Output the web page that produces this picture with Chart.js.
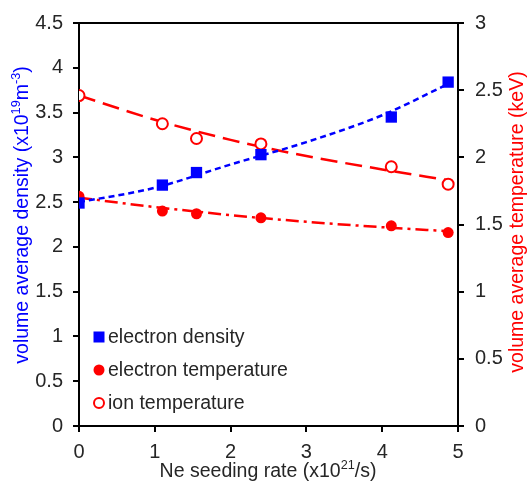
<!DOCTYPE html>
<html>
<head>
<meta charset="utf-8">
<script src="https://cdn.jsdelivr.net/npm/chart.js@4/dist/chart.umd.min.js"></script>
<style>
  html, body { margin: 0; padding: 0; background: #fff; }
  #wrap { width: 529px; height: 485px; position: relative; }
</style>
</head>
<body>
<div id="wrap"><canvas id="chart"></canvas></div>
<script>
// measured points
const seedRate = [0, 1.1, 1.55, 2.4, 4.12, 4.87];
const electronDensity = [2.49, 2.69, 2.83, 3.03, 3.45, 3.84];
const electronTemp = [1.71, 1.6, 1.58, 1.55, 1.49, 1.44];
const ionTemp = [2.46, 2.25, 2.14, 2.1, 1.93, 1.8];

// trend lines
const fitX = [0, 1, 2, 3, 4, 4.87];
const densityFit = [2.5, 2.66, 2.92, 3.17, 3.47, 3.82];
const eTempFit = [1.7, 1.63, 1.57, 1.52, 1.48, 1.45];
const iTempFit = [2.46, 2.28, 2.13, 2.01, 1.91, 1.83];

const xTicks = [0, 1, 2, 3, 4, 5];
const leftTicks = [0, 0.5, 1, 1.5, 2, 2.5, 3, 3.5, 4, 4.5];
const rightTicks = [0, 0.5, 1, 1.5, 2, 2.5, 3];

const BLUE = "#0000ff";
const RED = "#ff0000";
const FONT = "'Liberation Sans', Arial, sans-serif";
const TXT = "#262626";
const TICK_SIZE = 20;
const LABEL_SIZE = 19.5;

const pts = (xs, ys) => xs.map((x, i) => ({ x, y: ys[i] }));

function richText(ctx, parts, size) {
  // parts: [text, isSup]
  let w = 0;
  parts.forEach(([t, sup]) => {
    ctx.font = (sup ? size * 0.65 : size) + "px " + FONT;
    w += ctx.measureText(t).width;
  });
  let x = -w / 2;
  parts.forEach(([t, sup]) => {
    ctx.font = (sup ? size * 0.65 : size) + "px " + FONT;
    ctx.fillText(t, x, sup ? -size * 0.35 : 0);
    x += ctx.measureText(t).width;
  });
}

const decorPlugin = {
  id: "decor",
  afterDraw(chart) {
    const ctx = chart.ctx;
    const a = chart.chartArea;
    ctx.save();
    // top frame line
    ctx.strokeStyle = "#000";
    ctx.lineWidth = 2;
    ctx.beginPath();
    ctx.moveTo(a.left, a.top);
    ctx.lineTo(a.right, a.top);
    ctx.stroke();

    ctx.textBaseline = "middle";
    // left title
    ctx.save();
    ctx.translate(23, 215);
    ctx.rotate(-Math.PI / 2);
    ctx.fillStyle = BLUE;
    richText(ctx, [["volume average density (x10", 0], ["19", 1], ["m", 0], ["-3", 1], [")", 0]], LABEL_SIZE);
    ctx.restore();
    // right title
    ctx.save();
    ctx.translate(518, 222);
    ctx.rotate(-Math.PI / 2);
    ctx.fillStyle = RED;
    richText(ctx, [["volume average temperature (keV)", 0]], LABEL_SIZE);
    ctx.restore();
    // x title
    ctx.save();
    ctx.translate(268, 472);
    ctx.fillStyle = TXT;
    richText(ctx, [["Ne seeding rate (x10", 0], ["21", 1], ["/s)", 0]], LABEL_SIZE);
    ctx.restore();

    // legend
    const items = [
      { label: "electron density", y: 337, kind: "sq" },
      { label: "electron temperature", y: 370, kind: "dot" },
      { label: "ion temperature", y: 403, kind: "ring" },
    ];
    ctx.font = LABEL_SIZE + "px " + FONT;
    ctx.textAlign = "left";
    items.forEach((it) => {
      const mx = 99;
      if (it.kind === "sq") {
        ctx.fillStyle = BLUE;
        ctx.fillRect(mx - 5.5, it.y - 5.5, 11, 11);
      } else if (it.kind === "dot") {
        ctx.fillStyle = RED;
        ctx.beginPath();
        ctx.arc(mx, it.y, 5.5, 0, Math.PI * 2);
        ctx.fill();
      } else {
        ctx.strokeStyle = RED;
        ctx.lineWidth = 2;
        ctx.beginPath();
        ctx.arc(mx, it.y, 5, 0, Math.PI * 2);
        ctx.stroke();
      }
      ctx.fillStyle = TXT;
      ctx.fillText(it.label, 108, it.y + 1);
    });
    ctx.restore();
  },
};

function fixedTicks(values) {
  return (scale) => {
    scale.ticks = values.map((v) => ({ value: v }));
  };
}

const tickFmt = (v) => String(v);

new Chart(document.getElementById("chart"), {
  type: "line",
  data: {
    datasets: [
      {
        label: "density fit",
        data: pts(fitX, densityFit),
        yAxisID: "y",
        borderColor: BLUE,
        borderWidth: 2.5,
        borderDash: [6, 4],
        pointRadius: 0,
        cubicInterpolationMode: "monotone",
        order: 1,
      },
      {
        label: "ion fit",
        data: pts(fitX, iTempFit),
        yAxisID: "y1",
        borderColor: RED,
        borderWidth: 2.5,
        borderDash: [17, 8],
        pointRadius: 0,
        cubicInterpolationMode: "monotone",
        order: 1,
      },
      {
        label: "electron temp fit",
        data: pts(fitX, eTempFit),
        yAxisID: "y1",
        borderColor: RED,
        borderWidth: 2.5,
        borderDash: [13, 5, 3, 5],
        pointRadius: 0,
        cubicInterpolationMode: "monotone",
        order: 1,
      },
      {
        label: "electron density",
        data: pts(seedRate, electronDensity),
        yAxisID: "y",
        showLine: false,
        pointStyle: "rect",
        pointRadius: 8,
        backgroundColor: BLUE,
        borderColor: BLUE,
        borderWidth: 0,
        order: 0,
      },
      {
        label: "electron temperature",
        data: pts(seedRate, electronTemp),
        yAxisID: "y1",
        showLine: false,
        pointStyle: "circle",
        pointRadius: 5.5,
        backgroundColor: RED,
        borderColor: RED,
        borderWidth: 0,
        order: 0,
      },
      {
        label: "ion temperature",
        data: pts(seedRate, ionTemp),
        yAxisID: "y1",
        showLine: false,
        pointStyle: "circle",
        pointRadius: 5.5,
        backgroundColor: "#fff",
        borderColor: RED,
        borderWidth: 2,
        order: 0,
      },
    ],
  },
  options: {
    responsive: true,
    maintainAspectRatio: false,
    animation: false,
    layout: { padding: { top: 20, right: 0, left: 0, bottom: 0 } },
    plugins: { legend: { display: false }, tooltip: { enabled: false } },
    scales: {
      x: {
        type: "linear",
        min: 0,
        max: 5,
        afterBuildTicks: fixedTicks(xTicks),
        afterFit: (s) => { s.height = 59; },
        border: { color: "#000", width: 2 },
        grid: { drawOnChartArea: false, tickLength: 6, color: "#000", lineWidth: 2 },
        ticks: { color: TXT, font: { family: FONT, size: TICK_SIZE }, padding: 8, callback: tickFmt },
      },
      y: {
        position: "left",
        min: 0,
        max: 4.5,
        afterBuildTicks: fixedTicks(leftTicks),
        afterFit: (s) => { s.width = 79; },
        border: { color: "#000", width: 2 },
        grid: { drawOnChartArea: false, tickLength: 6, color: "#000", lineWidth: 2 },
        ticks: { color: TXT, font: { family: FONT, size: TICK_SIZE }, padding: 10, callback: tickFmt },
      },
      y1: {
        position: "right",
        min: 0,
        max: 3,
        afterBuildTicks: fixedTicks(rightTicks),
        afterFit: (s) => { s.width = 71; },
        border: { color: "#000", width: 2 },
        grid: { drawOnChartArea: false, tickLength: 6, color: "#000", lineWidth: 2 },
        ticks: { color: TXT, font: { family: FONT, size: TICK_SIZE }, padding: 11, callback: tickFmt },
      },
    },
  },
  plugins: [decorPlugin],
});
</script>
</body>
</html>
